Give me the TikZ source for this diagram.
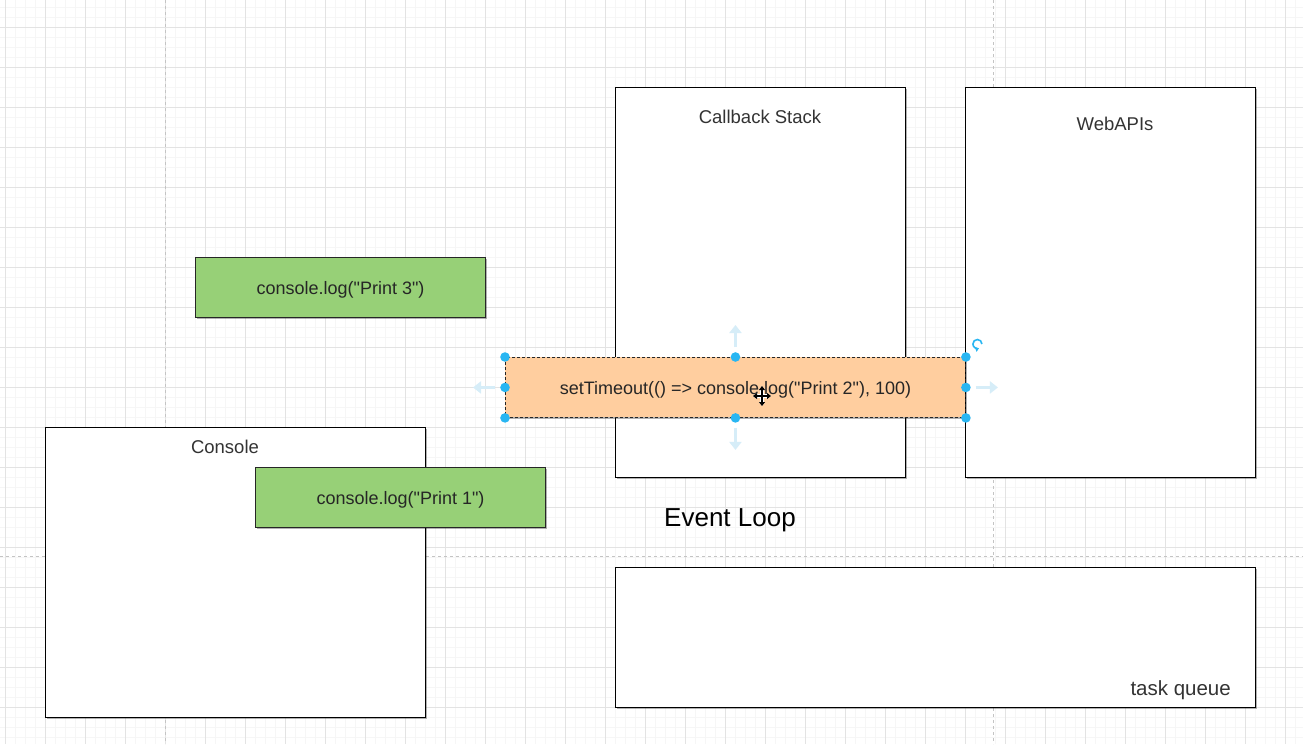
\documentclass[tikz,border=0pt]{standalone}
\usepackage{fontspec}
\setmainfont{Liberation Sans}[Ligatures=TeXOff]
\usetikzlibrary{arrows.meta}
\usetikzlibrary{positioning}
\usetikzlibrary{shadows}
\definecolor{gridminor}{HTML}{F6F6F6}
\definecolor{gridmajor}{HTML}{E3E3E3}
\definecolor{pagebreak}{HTML}{C4C4C4}
\definecolor{codegreen}{HTML}{97D077}
\definecolor{timerpeach}{HTML}{FFCE9F}
\definecolor{handleblue}{HTML}{29B6F2}
\definecolor{hintblue}{HTML}{D6EDF8}
\definecolor{labelgrey}{HTML}{333333}

\begin{document}
\begin{tikzpicture}[x=1pt, y=-1pt,
    shade box/.style={drop shadow={shadow xshift=1.5pt, shadow yshift=-1.5pt, fill=black, opacity=0.3}},
    panel/.style={draw=black, line width=1.1pt, fill=white, anchor=north west, inner sep=0pt, shade box},
    paneltitle/.style={text=labelgrey, font=\fontsize{18.5}{22}\selectfont, anchor=base, inner sep=0pt},
    codebox/.style={draw=black!85, line width=1.1pt, anchor=north west, minimum height=60pt,
      text=black!85, font=\fontsize{18}{22}\selectfont, text height=14pt, text depth=0pt, shade box},
    hint/.style={hintblue, line width=3.5pt, -{Triangle[length=8pt,width=12pt]}},
    handle/.style={fill=handleblue},
    cursor/.style={line width=1.4pt, -{Triangle[length=4pt,width=6pt]}}
  ]
  \useasboundingbox (0,0) rectangle (1303,744);

  % canvas grid
  \foreach \gx in {5,15,...,1303} \draw[gridminor, line width=0.6pt] (\gx,0) -- (\gx,744);
  \foreach \gy in {7,17,...,744} \draw[gridminor, line width=0.6pt] (0,\gy) -- (1303,\gy);
  \foreach \gx in {5,45,...,1303} \draw[gridmajor, line width=0.8pt] (\gx,0) -- (\gx,744);
  \foreach \gy in {27,67,...,744} \draw[gridmajor, line width=0.8pt] (0,\gy) -- (1303,\gy);
  \draw[pagebreak, dashed, line width=0.8pt] (165,0) -- (165,744) (993,0) -- (993,744) (0,556) -- (1303,556);

  % panels
  \node[panel, minimum width=380pt, minimum height=290pt] (console) at (45,427) {};
  \node[panel, minimum width=290pt, minimum height=390pt] (stack) at (615,87) {};
  \node[panel, minimum width=290pt, minimum height=390pt] (webapis) at (965,87) {};
  \node[panel, minimum width=640pt, minimum height=140pt] (queue) at (615,567) {};

  \node[paneltitle] (consoletitle) at (225,453.5) {Console};
  \node[paneltitle] (stacktitle) at (760,123.3) {Callback Stack};
  \node[paneltitle] (webapistitle) at (1115,130) {WebAPIs};
  \node[paneltitle, anchor=base east, font=\fontsize{20.5}{24}\selectfont] (queuetitle) at (1231,695) {task queue};
  \node[anchor=base, inner sep=0pt, font=\fontsize{26}{30}\selectfont] (loop) at (730,526) {Event Loop};

  % code blocks
  \node[codebox, fill=codegreen, minimum width=290pt] (print3) at (195,257) {console.log("Print 3")};
  \node[codebox, fill=codegreen, minimum width=290pt] (print1) at (255,467) {console.log("Print 1")};
  \node[codebox, fill=timerpeach, minimum width=460pt, dash pattern=on 3pt off 2pt, line width=0.9pt] (timer) at (505,357)
    {setTimeout(() => console.log("Print 2"), 100)};

  % selection handles
  \draw[hint] (timer.north) ++(0,-10) -- ++(0,-22);
  \draw[hint] (timer.south) ++(0,10) -- ++(0,22);
  \draw[hint] (timer.west) ++(-10,0) -- ++(-22,0);
  \draw[hint] (timer.east) ++(10,0) -- ++(22,0);
  \foreach \h in {north west,north,north east,west,east,south west,south,south east}
    \fill[handle] (timer.\h) circle (4.8pt);
  \draw[handleblue, line width=1.6pt, -{Triangle[length=3.5pt,width=5pt]}] (timer.north east) ++(16,-13) arc[start angle=0, end angle=290, radius=4.5pt];

  % move cursor
  \coordinate (grab) at (762,396);
  \foreach \d in {(0,-10),(0,10),(-9,0),(9,0)}
    \draw[cursor, white, line width=3.4pt] (grab) -- ++\d;
  \foreach \d in {(0,-10),(0,10),(-9,0),(9,0)}
    \draw[cursor] (grab) -- ++\d;
\end{tikzpicture}
\end{document}
